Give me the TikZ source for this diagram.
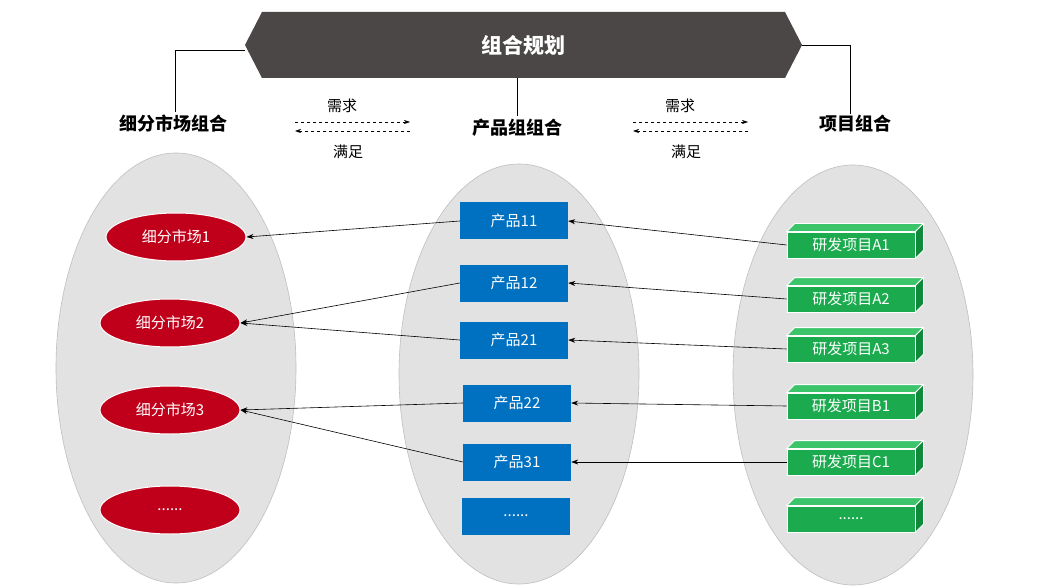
\documentclass[tikz,border=0pt]{standalone}
\usepackage{fontspec}
\setmainfont{Noto Sans CJK SC}
\usetikzlibrary{arrows.meta,shapes.geometric}
\definecolor{banner}{HTML}{4A4746}
\definecolor{mred}{HTML}{C0001A}
\definecolor{pblue}{HTML}{0070C0}
\definecolor{gfront}{HTML}{1BAA4E}
\definecolor{gtop}{HTML}{3CC46B}
\definecolor{gside}{HTML}{0F8A3A}
\definecolor{ovfill}{HTML}{E2E2E2}
\tikzset{
 big/.style={fill=ovfill,draw=gray!50,line width=0.6pt},
 mkt/.style={ellipse,fill=mred,draw=white,line width=1pt,minimum width=140pt,minimum height=48pt,text=white,font=\fontsize{15}{15}\selectfont,inner sep=0pt},
 prod/.style={rectangle,fill=pblue,minimum width=108pt,minimum height=37pt,text=white,font=\fontsize{15}{15}\selectfont,inner sep=0pt},
 proj/.style={rectangle,fill=gfront,draw=white,line width=0.8pt,minimum width=128pt,minimum height=26pt,text=white,font=\fontsize{15}{15}\selectfont,inner sep=0pt},
 hdr/.style={font=\bfseries\fontsize{18}{18}\selectfont},
 lbl/.style={font=\fontsize{15}{15}\selectfont},
 con/.style={-{Stealth[length=7pt,width=5pt]},line width=0.6pt,black},
 dsh/.style={-{Stealth[length=6pt,width=4pt]},dashed,line width=0.6pt},
}
\newcommand{\gbox}[3]{%
 \node[proj] (#1) at (851,#2) {#3};
 \fill[gtop,draw=white,line width=0.8pt] (#1.north west) -- ++(8,-8) -- ([xshift=8pt,yshift=8pt]#1.north east) -- (#1.north east) -- cycle;
 \fill[gside,draw=white,line width=0.8pt] (#1.north east) -- ++(8,-8) -- ([xshift=8pt,yshift=8pt]#1.south east) -- (#1.south east) -- cycle;
}
\begin{document}
\begin{tikzpicture}[x=1pt,y=-1pt]
\useasboundingbox (0,0) rectangle (1044,588);
\fill[white] (0,0) rectangle (1044,588);
% banner
\fill[banner] (245,45) -- (262,12) -- (785,12) -- (802,45) -- (785,78) -- (262,78) -- cycle;
\node[text=white,font=\bfseries\fontsize{21}{21}\selectfont] (title) at (523,45) {组合规划};
\node[hdr] (h1) at (173,124) {细分市场组合};
\node[hdr] (h2) at (517,128) {产品组组合};
\node[hdr] (h3) at (855,124) {项目组合};
\draw[line width=0.6pt] (245,50) -- (175,50) -- (h1.north -| 175,0);
\draw[line width=0.6pt] (802,45) -- (850,45) -- (850,114);
\draw[line width=0.6pt] (517,78) -- (h2.north);
% dashed arrows
\coordinate (l1a) at (295,122); \coordinate (l1b) at (410,122);
\coordinate (l2a) at (410,131); \coordinate (l2b) at (295,131);
\draw[dsh] (l1a) -- (l1b); \draw[dsh] (l2a) -- (l2b);
\node[lbl] (xq1) at (342,106) {需求};
\node[lbl] (xm1) at (348,152) {满足};
\coordinate (r1a) at (633,122); \coordinate (r1b) at (748,122);
\coordinate (r2a) at (748,131); \coordinate (r2b) at (633,131);
\draw[dsh] (r1a) -- (r1b); \draw[dsh] (r2a) -- (r2b);
\node[lbl] (xq2) at (680,106) {需求};
\node[lbl] (xm2) at (686,152) {满足};
% big ellipses
\draw[big] (176,368) ellipse [x radius=120,y radius=215];
\draw[big] (519,374) ellipse [x radius=120,y radius=210];
\draw[big] (853,375) ellipse [x radius=120,y radius=210];
% markets
\node[mkt] (m1) at (176,237) {细分市场1};
\node[mkt] (m2) at (170,323) {细分市场2};
\node[mkt] (m3) at (170,410) {细分市场3};
\node[mkt] (m4) at (170,510) {......};
% products
\node[prod] (p11) at (514,221) {产品11};
\node[prod] (p12) at (514,283) {产品12};
\node[prod] (p21) at (514,340) {产品21};
\node[prod] (p22) at (517,403) {产品22};
\node[prod] (p31) at (517,462) {产品31};
\node[prod] (p0) at (516,516) {......};
% projects
\gbox{a1}{245}{研发项目A1}
\gbox{a2}{299}{研发项目A2}
\gbox{a3}{349}{研发项目A3}
\gbox{b1}{406}{研发项目B1}
\gbox{c1}{462}{研发项目C1}
\gbox{g0}{519}{......}
% connectors
\draw[con] (p11.west) -- (m1.east);
\draw[con] (p12.west) -- (m2.east);
\draw[con] (p21.west) -- (m2.east);
\draw[con] (p22.west) -- (m3.east);
\draw[con] (p31.west) -- (m3.east);
\draw[con] (a1.west) -- (p11.east);
\draw[con] (a2.west) -- (p12.east);
\draw[con] (a3.west) -- (p21.east);
\draw[con] (b1.west) -- (p22.east);
\draw[con] (c1.west) -- (p31.east);
\end{tikzpicture}
\end{document}
